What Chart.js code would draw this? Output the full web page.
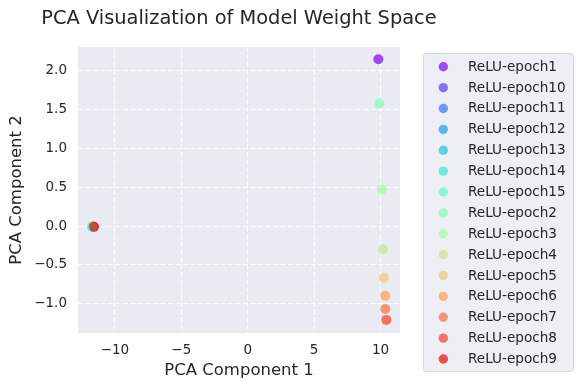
<!DOCTYPE html>
<html>
<head>
<meta charset="utf-8">
<script src="https://cdn.jsdelivr.net/npm/chart.js@4/dist/chart.umd.min.js"></script>
<style>
  html, body { margin: 0; padding: 0; background: #fff; }
</style>
</head>
<body>
<canvas id="myChart" width="582" height="390"></canvas>
<script>
// run labels, sorted the way the legend shows them
const runs = ['ReLU-epoch1','ReLU-epoch10','ReLU-epoch11','ReLU-epoch12','ReLU-epoch13',
  'ReLU-epoch14','ReLU-epoch15','ReLU-epoch2','ReLU-epoch3','ReLU-epoch4',
  'ReLU-epoch5','ReLU-epoch6','ReLU-epoch7','ReLU-epoch8','ReLU-epoch9']
const pc1 = [9.84, -11.62, -11.64, -11.66, -11.68, -11.70, -11.72, 9.91, 10.11, 10.19, 10.26, 10.36, 10.36, 10.44, -11.57]
const pc2 = [2.15, -0.01, -0.01, -0.01, -0.01, -0.01, -0.01, 1.58, 0.47, -0.30, -0.67, -0.90, -1.07, -1.21, -0.01]
const xTicks = [-10, -5, 0, 5, 10]
const yTicks = [-1.0, -0.5, 0.0, 0.5, 1.0, 1.5, 2.0]

// matplotlib "rainbow" colormap
function rainbow(t){
  const r = Math.min(1, Math.abs(2*t - 0.5))
  const g = Math.sin(Math.PI*t)
  const b = Math.cos(Math.PI*t/2)
  return `rgba(${Math.round(r*255)},${Math.round(g*255)},${Math.round(b*255)},0.7)`
}
const colors = runs.map((_, i) => rainbow(i/(runs.length-1)))

const FONT = 'DejaVu Sans'
const TXT = '#262626'
const minus = v => String(v).replace('-', '\u2212')

const titlePlugin = {
  id: 'axTitle',
  afterDraw(chart){
    const {ctx, chartArea} = chart
    ctx.save()
    ctx.font = `19.4px "${FONT}"`
    ctx.fillStyle = TXT
    ctx.textAlign = 'center'
    ctx.textBaseline = 'middle'
    ctx.fillText('PCA Visualization of Model Weight Space', (chartArea.left + chartArea.right)/2, 18.7)
    ctx.restore()
  }
}

const legendPlugin = {
  id: 'sideLegend',
  afterDraw(chart){
    const ctx = chart.ctx
    const x0 = 423.5, y0 = 53.5, w = 150, h = 318, rowH = 20.88
    ctx.save()
    ctx.beginPath()
    ctx.roundRect(x0, y0, w, h, 3)
    ctx.fillStyle = 'rgba(234,234,242,0.8)'
    ctx.fill()
    ctx.strokeStyle = 'rgba(204,204,204,0.8)'
    ctx.lineWidth = 1
    ctx.stroke()
    ctx.font = `13.6px "${FONT}"`
    ctx.textBaseline = 'middle'
    runs.forEach((name, i) => {
      const y = 66.7 + i*rowH
      ctx.beginPath()
      ctx.arc(443.3, y, 4.7, 0, Math.PI*2)
      ctx.fillStyle = colors[i]
      ctx.fill()
      ctx.fillStyle = TXT
      ctx.fillText(name, 468, y + 0.5)
    })
    ctx.restore()
  }
}

const bgPlugin = {
  id: 'axBg',
  beforeDraw(chart){
    const {ctx, chartArea: a} = chart
    ctx.save()
    ctx.fillStyle = '#EAEAF2'
    ctx.fillRect(a.left, a.top, a.right - a.left, a.bottom - a.top)
    ctx.restore()
  }
}

new Chart(document.querySelector('#myChart'), {
  type: 'scatter',
  data: {
    datasets: runs.map((name, i) => ({
      label: name,
      data: [{x: pc1[i], y: pc2[i]}],
      backgroundColor: colors[i],
      borderColor: colors[i],
      borderWidth: 0,
      pointRadius: 5,
      pointHoverRadius: 5,
      order: runs.length - i   // later runs drawn on top, like matplotlib
    }))
  },
  options: {
    responsive: false,
    animation: false,
    layout: { padding: { left: 0, top: 47, right: 182, bottom: 0 } },
    plugins: {
      legend: { display: false },
      tooltip: { enabled: false }
    },
    scales: {
      x: {
        type: 'linear',
        min: -12.78,
        max: 11.47,
        afterFit(s){ s.height = 57 },
        afterBuildTicks(s){ s.ticks = xTicks.map(v => ({value: v})) },
        border: { display: false, dash: [5, 2.5] },
        grid: { color: 'rgba(255,255,255,0.95)', lineWidth: 1, drawTicks: false },
        ticks: {
          padding: 9.2,
          color: TXT,
          font: { family: FONT, size: 13.5 },
          callback: v => minus(v)
        },
        title: {
          display: true,
          text: 'PCA Component 1',
          color: TXT,
          font: { family: FONT, size: 16.5 },
          padding: { top: 0, bottom: 9.8 }
        }
      },
      y: {
        type: 'linear',
        min: -1.379,
        max: 2.307,
        afterFit(s){ s.width = 78 },
        afterBuildTicks(s){ s.ticks = yTicks.map(v => ({value: v})) },
        border: { display: false, dash: [5, 2.5] },
        grid: { color: 'rgba(255,255,255,0.95)', lineWidth: 1, drawTicks: false },
        ticks: {
          padding: 11,
          color: TXT,
          font: { family: FONT, size: 13.5 },
          callback: v => minus(Number(v).toFixed(1))
        },
        title: {
          display: true,
          text: 'PCA Component 2',
          color: TXT,
          font: { family: FONT, size: 16.5 },
          padding: { top: 6.4, bottom: 0 }
        }
      }
    }
  },
  plugins: [bgPlugin, titlePlugin, legendPlugin]
})
</script>
</body>
</html>
